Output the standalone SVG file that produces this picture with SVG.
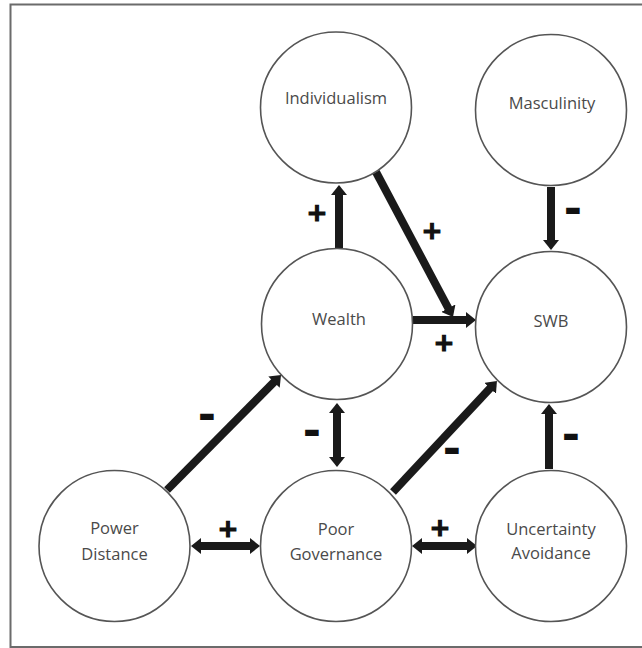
<svg xmlns="http://www.w3.org/2000/svg" width="642" height="648" viewBox="0 0 642 648">
  <style>
    .node circle { fill: #ffffff; stroke: #555555; stroke-width: 1.6; }
    .node text { font-family: "Open Sans", "Noto Sans", sans-serif; font-size: 16.5px; fill: #4a4a4a; text-anchor: middle; }
    .conn line { stroke: #1a1a1a; stroke-width: 8; fill: none; }
    .sign { font-family: "DejaVu Sans", sans-serif; font-weight: bold; fill: #111111; text-anchor: middle; }
    .plus { font-size: 25px; stroke: #111111; stroke-width: 1.2; }
    .minus { font-size: 44px; }
  </style>
  <defs>
    <marker id="ah" viewBox="0 0 10 16" refX="1" refY="8" markerWidth="10" markerHeight="16" markerUnits="userSpaceOnUse" orient="auto-start-reverse">
      <path d="M0,0 L10,8 L0,16 z" fill="#1a1a1a"/>
    </marker>
  </defs>

  <rect x="10.5" y="4.5" width="640" height="642.5" fill="#ffffff" stroke="#6b6b6b" stroke-width="2"/>

  <g id="connectors" class="conn">
    <line x1="339" y1="248" x2="339" y2="194" marker-end="url(#ah)"/>
    <line x1="376" y1="172" x2="448.8" y2="309.1" marker-end="url(#ah)"/>
    <line x1="413" y1="320" x2="467" y2="320" marker-end="url(#ah)"/>
    <line x1="551" y1="187" x2="551" y2="241" marker-end="url(#ah)"/>
    <line x1="167" y1="490" x2="274.7" y2="381.4" marker-end="url(#ah)"/>
    <line x1="337" y1="412" x2="337" y2="458" marker-start="url(#ah)" marker-end="url(#ah)"/>
    <line x1="393" y1="492" x2="490.8" y2="387.6" marker-end="url(#ah)"/>
    <line x1="200" y1="546" x2="251" y2="546" marker-start="url(#ah)" marker-end="url(#ah)"/>
    <line x1="421" y1="546" x2="468" y2="546" marker-start="url(#ah)" marker-end="url(#ah)"/>
    <line x1="549" y1="469" x2="549" y2="413" marker-end="url(#ah)"/>
  </g>

  <g id="labels">
    <text class="sign plus" x="317" y="221">+</text>
    <text class="sign plus" x="432" y="239">+</text>
    <text class="sign plus" x="444" y="351">+</text>
    <text class="sign plus" x="228" y="537">+</text>
    <text class="sign plus" x="440" y="536">+</text>
    <text class="sign minus" x="573" y="224">-</text>
    <text class="sign minus" x="207" y="430">-</text>
    <text class="sign minus" x="312" y="446">-</text>
    <text class="sign minus" x="452" y="464">-</text>
    <text class="sign minus" x="571" y="450">-</text>
  </g>

  <g id="node-individualism" class="node">
    <circle cx="336" cy="107.5" r="75.5"/>
    <text x="336" y="103.5">Individualism</text>
  </g>
  <g id="node-masculinity" class="node">
    <circle cx="551" cy="110" r="75.5"/>
    <text x="552" y="109">Masculinity</text>
  </g>
  <g id="node-wealth" class="node">
    <circle cx="337" cy="324" r="75.5"/>
    <text x="339" y="325">Wealth</text>
  </g>
  <g id="node-swb" class="node">
    <circle cx="551" cy="327" r="75.5"/>
    <text x="551" y="327">SWB</text>
  </g>
  <g id="node-power-distance" class="node">
    <circle cx="114.5" cy="546" r="75.5"/>
    <text x="114.5" y="534">Power</text>
    <text x="114.5" y="560">Distance</text>
  </g>
  <g id="node-poor-governance" class="node">
    <circle cx="336" cy="546" r="75.5"/>
    <text x="336" y="535">Poor</text>
    <text x="336" y="560">Governance</text>
  </g>
  <g id="node-uncertainty-avoidance" class="node">
    <circle cx="551" cy="546" r="75.5"/>
    <text x="551" y="535">Uncertainty</text>
    <text x="551" y="559">Avoidance</text>
  </g>
</svg>
